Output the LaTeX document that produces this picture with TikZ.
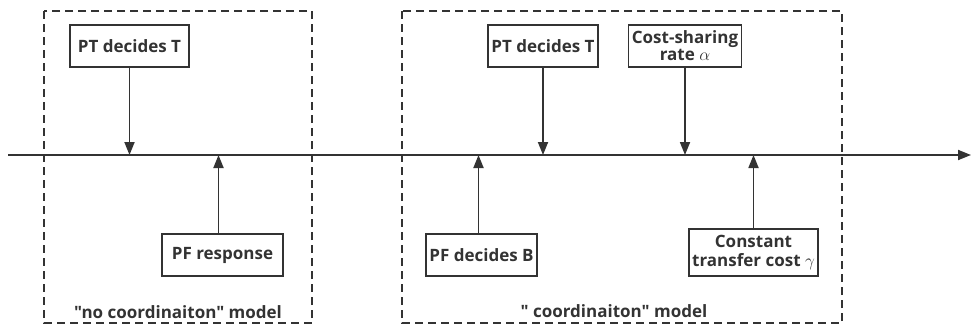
\documentclass[tikz,border=0pt]{standalone}
\usepackage{fontspec}
\setmainfont{Open Sans}[Ligatures=TeXOff]
\usetikzlibrary{arrows.meta}
\tikzstyle{event} = [rectangle, draw=black!80, line width=1.8pt, minimum height=42pt, text centered, align=center, font=\fontsize{17}{19}\selectfont\bfseries, text=black!80]
\tikzstyle{model} = [rectangle, draw=black!80, line width=1.8pt, dash pattern=on 8pt off 5pt]
\tikzstyle{caption} = [font=\fontsize{17}{19}\selectfont\bfseries, text=black!80]
\tikzstyle{arrow} = [line width=1.8pt, draw=black!80, fill=black!80, -{Triangle[length=13pt,width=10pt]}]

\begin{document}
\begin{tikzpicture}[x=1pt, y=-1pt]
      \useasboundingbox (0,0) rectangle (971,327);

      % timeline
      \coordinate (axs) at (8,155);
      \coordinate (axe) at (971,155);
      \draw [arrow] (axs) -- (axe);

      % model frames
      \draw [model] (44,11) rectangle (312,323);
      \draw [model] (402,11) rectangle (842,323);
      \node (capl) [caption] at (178,312) {"no coordinaiton" model};
      \node (capr) [caption] at (614,311) {" coordinaiton" model};

      % "no coordination"
      \node (ptl)  [event, minimum width=119pt] at (129.5,46)  {PT decides T};
      \node (pfr)  [event, minimum width=121pt] at (222.5,255) {PF response};

      % "coordination"
      \node (ptr)  [event, minimum width=108pt] at (543,46)    {PT decides T};
      \node (csr)  [event, minimum width=108pt, inner ysep=1pt, font=\fontsize{17}{17}\selectfont\bfseries] at (685,46) {Cost-sharing\\rate $\alpha$};
      \node (pfb)  [event, minimum width=107pt] at (481.5,255) {PF decides B};
      \node (ctc)  [event, minimum width=123pt, minimum height=47pt, inner ysep=1pt] at (753.5,252.5) {Constant\\transfer cost $\gamma$};

      \draw [arrow] (ptl.south) -- (ptl.south |- axs);
      \draw [arrow] ([xshift=-4pt]pfr.north) -- ([xshift=-4pt]pfr.north |- axs);
      \draw [arrow] (ptr.south) -- (ptr.south |- axs);
      \draw [arrow] (csr.south) -- (csr.south |- axs);
      \draw [arrow] ([xshift=-3pt]pfb.north) -- ([xshift=-3pt]pfb.north |- axs);
      \draw [arrow] (ctc.north) -- (ctc.north |- axs);
\end{tikzpicture}
\end{document}
